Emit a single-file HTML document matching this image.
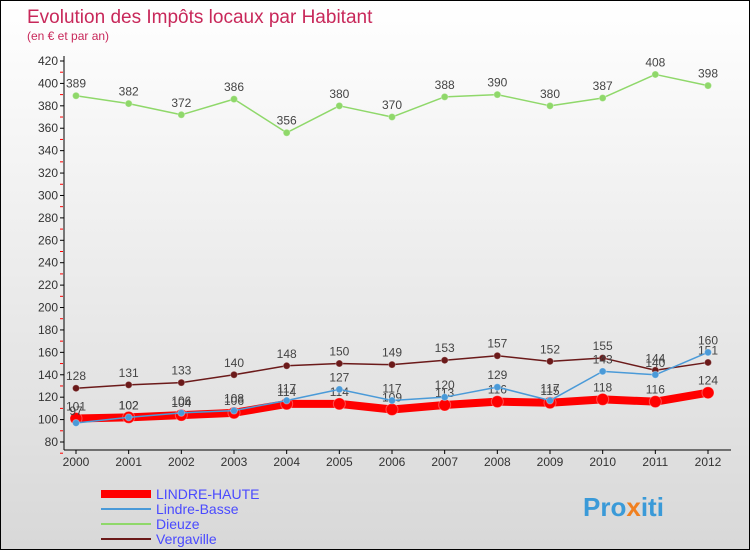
<!DOCTYPE html>
<html><head><meta charset="utf-8"><style>
body{margin:0;width:750px;height:550px;overflow:hidden;font-family:"Liberation Sans",sans-serif}
#wrap{position:relative;width:748px;height:548px;border:1px solid #000;background:linear-gradient(#fff,#d8d8d8)}
</style></head><body><div id="wrap">
<svg id="c" width="748" height="548" xmlns="http://www.w3.org/2000/svg">
<text x="26" y="22" font-size="19" fill="#c8285a">Evolution des Impôts locaux par Habitant</text>
<text x="26" y="39" font-size="12" fill="#c8285a">(en € et par an)</text>
<g id="axes"></g><g id="series"></g>
<g>
<line x1="100" y1="493" x2="150" y2="493" stroke="#f00" stroke-width="8"/>
<text x="155" y="498" font-size="14" fill="#4a4aff">LINDRE-HAUTE</text>
<line x1="100" y1="508" x2="150" y2="508" stroke="#4a9ad8" stroke-width="2"/>
<text x="155" y="513" font-size="14" fill="#4a4aff">Lindre-Basse</text>
<line x1="100" y1="523" x2="150" y2="523" stroke="#8fd86a" stroke-width="2"/>
<text x="155" y="528" font-size="14" fill="#4a4aff">Dieuze</text>
<line x1="100" y1="538" x2="150" y2="538" stroke="#6b1a1a" stroke-width="2"/>
<text x="155" y="543" font-size="14" fill="#4a4aff">Vergaville</text>
</g>
<text x="582" y="515" font-size="26" font-weight="bold" fill="#3a9ad8">Pro<tspan fill="#f08020">x</tspan>iti</text>
</svg>
<script>
const years=["2000","2001","2002","2003","2004","2005","2006","2007","2008","2009","2010","2011","2012"];
const lindreHaute=[101,102,104,106,114,114,109,113,116,115,118,116,124];
const lindreBasse=[97,102,106,108,117,127,117,120,129,117,143,140,160];
const dieuze=[389,382,372,386,356,380,370,388,390,380,387,408,398];
const vergaville=[128,131,133,140,148,150,149,153,157,152,155,144,151];
const yTicks=[80,100,120,140,160,180,200,220,240,260,280,300,320,340,360,380,400,420];
const NS="http://www.w3.org/2000/svg";
const X=i=>75+i*(632/12);
const Y=v=>441-(v-80)*(381/340);
function mk(t,a,p){const e=document.createElementNS(NS,t);for(const k in a)e.setAttribute(k,a[k]);p.appendChild(e);return e;}
const ax=document.getElementById('axes'),sr=document.getElementById('series');
const yl=mk('line',{x1:63,y1:55,x2:63,y2:449,stroke:'#000'},ax);


const xl=mk('line',{x1:63,y1:449,x2:730,y2:449,stroke:'#000'},ax);


yTicks.forEach(v=>{const y=Y(v);mk('line',{x1:59,y1:y,x2:63,y2:y,stroke:'#000'},ax);
mk('line',{x1:59,y1:y+11.2,x2:62,y2:y+11.2,stroke:'#f00'},ax);
const t=mk('text',{x:57,y:y+4,'font-size':12,fill:'#333','text-anchor':'end'},ax);t.textContent=v;

});
years.forEach((yr,i)=>{mk('line',{x1:X(i),y1:449,x2:X(i),y2:453,stroke:'#000'},ax);
const t=mk('text',{x:X(i),y:465,'font-size':12,fill:'#333','text-anchor':'middle'},ax);t.textContent=yr;

});
function series(d,col,w,r,name,dy){const g=mk('g',{},sr);


mk('polyline',{points:d.map((v,i)=>X(i)+','+Y(v)).join(' '),fill:'none',stroke:col,'stroke-width':w,'stroke-linejoin':'round'},g);
d.forEach((v,i)=>{const c=mk('circle',{cx:X(i),cy:Y(v),r:r,fill:col,stroke:'#fff','stroke-opacity':0.3},g);


const t=mk('text',{x:X(i),y:Y(v)+dy,'font-size':12,fill:'#444','text-anchor':'middle'},g);t.textContent=v;

});}
series(dieuze,'#8fd86a',1.5,3.5,'dieuze',-8);
series(vergaville,'#6b1a1a',1.5,3.5,'vergaville',-8);
series(lindreHaute,'#f00',8,6,'lindre-haute',-8);
series(lindreBasse,'#4a9ad8',1.5,3.5,'lindre-basse',-8);
</script></div></body></html>
